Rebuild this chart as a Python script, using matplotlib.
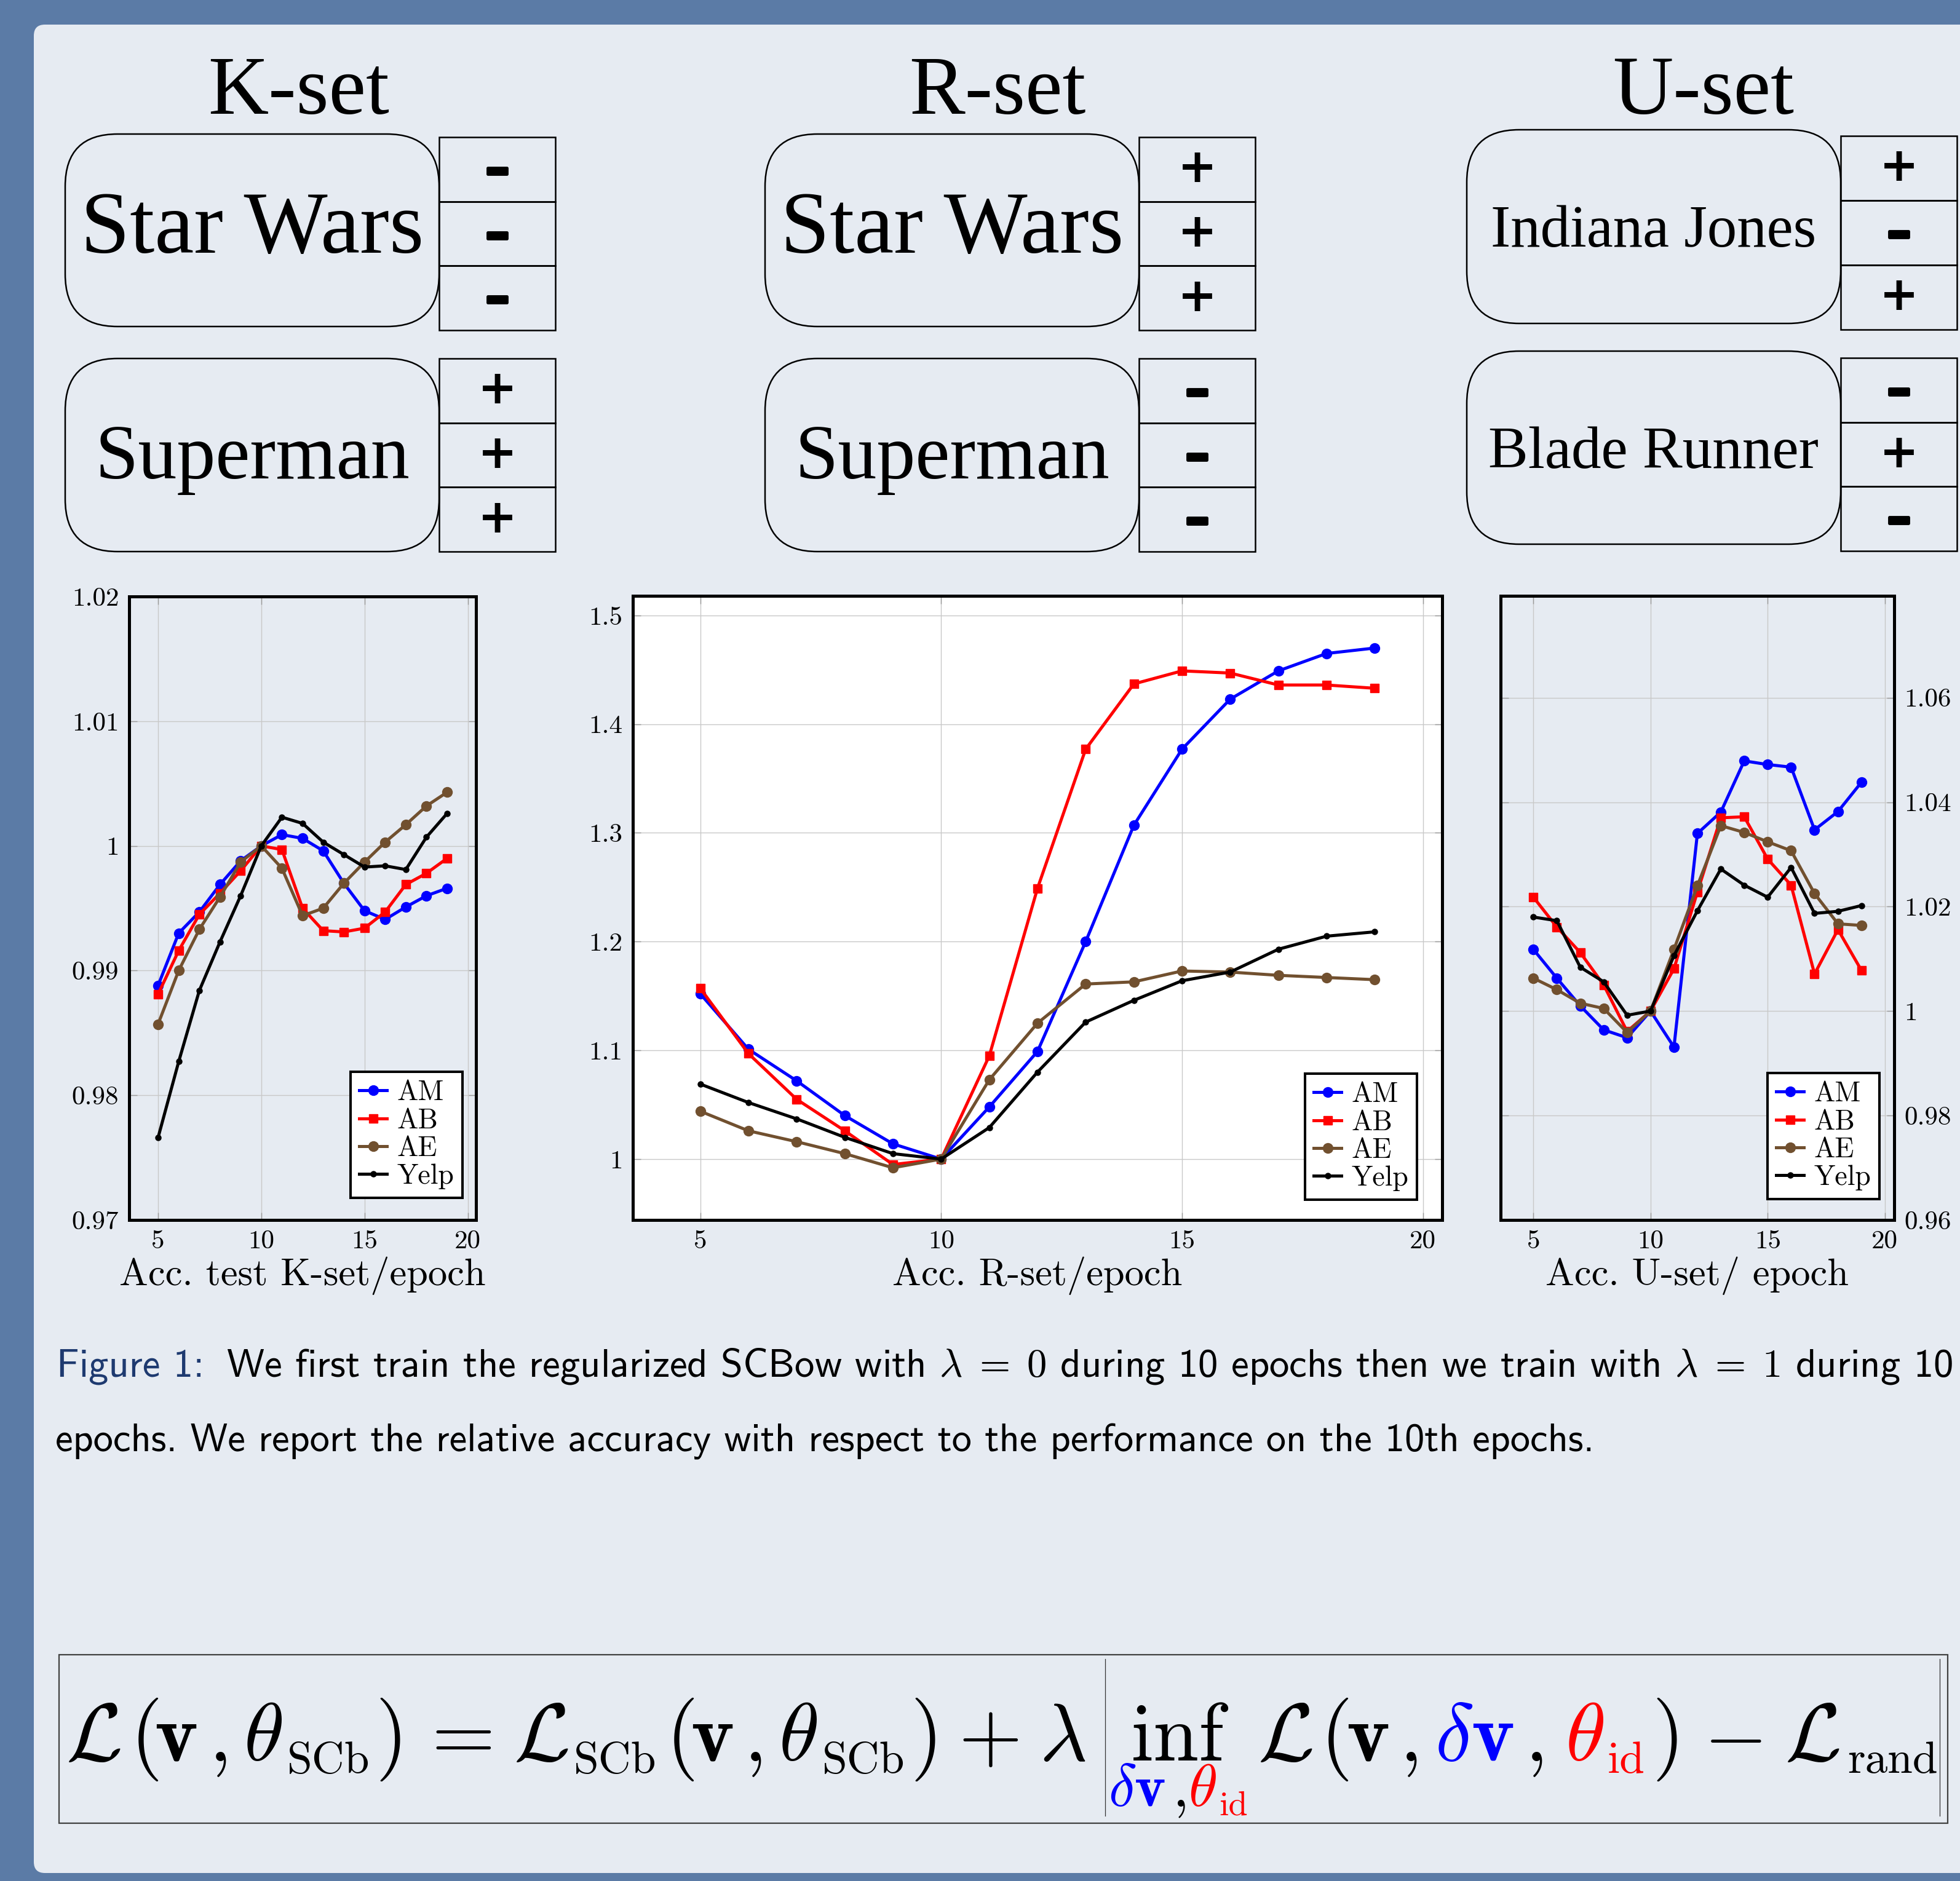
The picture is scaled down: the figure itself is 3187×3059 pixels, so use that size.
import matplotlib
matplotlib.use('Agg')
import matplotlib.pyplot as plt
import matplotlib.patheffects as pe
from matplotlib.patches import FancyBboxPatch, Rectangle

W, H = 3187, 3059

# ---- data ----
epochs = [5, 6, 7, 8, 9, 10, 11, 12, 13, 14, 15, 16, 17, 18, 19]
series_names = ['AM', 'AB', 'AE', 'Yelp']

k_am = [0.9888, 0.9930, 0.9947, 0.9969, 0.9988, 1.0, 1.0009, 1.0006, 0.9996, 0.9970, 0.9948, 0.9941, 0.9951, 0.9960, 0.9966]
k_ab = [0.9881, 0.9916, 0.9945, 0.9962, 0.9980, 1.0, 0.9997, 0.9950, 0.9932, 0.9931, 0.9934, 0.9947, 0.9969, 0.9978, 0.9990]
k_ae = [0.9857, 0.9900, 0.9933, 0.9959, 0.9987, 1.0, 0.9982, 0.9944, 0.9950, 0.9970, 0.9987, 1.0003, 1.0017, 1.0032, 1.0043]
k_yelp = [0.9766, 0.9827, 0.9884, 0.9923, 0.9960, 1.0, 1.0023, 1.0018, 1.0003, 0.9993, 0.9983, 0.9984, 0.9981, 1.0007, 1.0026]

r_am = [1.152, 1.101, 1.072, 1.040, 1.014, 1.0, 1.048, 1.099, 1.200, 1.307, 1.377, 1.423, 1.449, 1.465, 1.470]
r_ab = [1.157, 1.097, 1.055, 1.026, 0.995, 1.0, 1.095, 1.249, 1.377, 1.437, 1.449, 1.447, 1.436, 1.436, 1.433]
r_ae = [1.044, 1.026, 1.016, 1.005, 0.992, 1.0, 1.073, 1.125, 1.161, 1.163, 1.173, 1.172, 1.169, 1.167, 1.165]
r_yelp = [1.069, 1.052, 1.037, 1.020, 1.005, 1.0, 1.029, 1.080, 1.126, 1.146, 1.164, 1.172, 1.193, 1.205, 1.209]

u_am = [1.0118, 1.0063, 1.0010, 0.9964, 0.9949, 1.0, 0.9931, 1.0340, 1.0381, 1.0479, 1.0472, 1.0467, 1.0347, 1.0382, 1.0438]
u_ab = [1.0218, 1.0161, 1.0112, 1.0050, 0.9961, 1.0, 1.0081, 1.0228, 1.0370, 1.0372, 1.0291, 1.0241, 1.0071, 1.0156, 1.0078]
u_ae = [1.0063, 1.0041, 1.0015, 1.0005, 0.9959, 1.0, 1.0118, 1.0240, 1.0355, 1.0342, 1.0324, 1.0307, 1.0225, 1.0167, 1.0164]
u_yelp = [1.0180, 1.0173, 1.0084, 1.0056, 0.9992, 1.0, 1.0106, 1.0192, 1.0272, 1.0241, 1.0218, 1.0275, 1.0187, 1.0191, 1.0202]

x_ticks = [5, 10, 15, 20]
k_yticks = [0.97, 0.98, 0.99, 1.0, 1.01, 1.02]
k_ylabels = ['0.97', '0.98', '0.99', '1', '1.01', '1.02']
r_yticks = [1.0, 1.1, 1.2, 1.3, 1.4, 1.5]
r_ylabels = ['1', '1.1', '1.2', '1.3', '1.4', '1.5']
u_yticks = [0.96, 0.98, 1.0, 1.02, 1.04, 1.06]
u_ylabels = ['0.96', '0.98', '1', '1.02', '1.04', '1.06']

set_titles = ['K-set', 'R-set', 'U-set']
set_movies = [['Star Wars', 'Superman'], ['Star Wars', 'Superman'], ['Indiana Jones', 'Blade Runner']]
set_signs = [[['-', '-', '-'], ['+', '+', '+']],
             [['+', '+', '+'], ['-', '-', '-']],
             [['+', '-', '+'], ['-', '+', '-']]]
x_labels = ['Acc. test K-set/epoch', 'Acc. R-set/epoch', 'Acc. U-set/ epoch']

BLUE_BG = '#5B7BA6'
PANEL = '#E6EBF2'
BROWN = '#71502F'
colors = ['#0000FF', '#FF0000', BROWN, 'black']
markers = ['o', 's', 'o', 'o']
msizes = [11.5, 10.5, 11.5, 6.5]

plt.rcParams['font.family'] = 'cmr10'
plt.rcParams['mathtext.fontset'] = 'cm'
plt.rcParams['axes.unicode_minus'] = False

fig = plt.figure(figsize=(W / 100, H / 100), dpi=100, facecolor=BLUE_BG)
bg = fig.add_axes([0, 0, 1, 1])
bg.set_xlim(0, W)
bg.set_ylim(H, 0)
bg.axis('off')
renderer = fig.canvas.get_renderer()

bg.add_patch(FancyBboxPatch((55, 40), W, 3006, boxstyle='round,pad=0,rounding_size=18',
                            fc=PANEL, ec='none'))


def width_of(t):
    return t.get_window_extent(renderer).width


def fit_text(t, target):
    t.set_fontsize(t.get_fontsize() * target / width_of(t))


def px_rect(x0, y0, x1, y1):
    return [x0 / W, 1 - y1 / H, (x1 - x0) / W, (y1 - y0) / H]


# ---- top part: titles, movie boxes, signs ----
title_x = [486, 1622, 2770]
col_x0 = [106, 1244, 2385]
box_rows = [[(218, 531), (583, 897)], [(218, 531), (583, 897)], [(211, 526), (571, 885)]]
sign_rows = [[(223, 537), (583, 897)], [(223, 537), (583, 897)], [(221, 536), (582, 896)]]
text_base = [[411, 778], [411, 778], [401, 761]]
text_w = [[558, 512], [558, 512], [529, 537]]
BOX_W, SIGN_W = 608, 189

for c in range(3):
    bg.text(title_x[c], 185, set_titles[c], family='Liberation Serif', fontsize=98,
            ha='center', va='baseline')
    for r in range(2):
        x0 = col_x0[c]
        y0, y1 = box_rows[c][r]
        bg.add_patch(FancyBboxPatch((x0, y0), BOX_W, y1 - y0,
                                    boxstyle='round,pad=0,rounding_size=85',
                                    fc='none', ec='black', lw=1.8))
        t = bg.text(x0 + BOX_W / 2, text_base[c][r], set_movies[c][r], family='Liberation Serif',
                    fontsize=95, ha='center', va='baseline')
        fit_text(t, text_w[c][r])
        s0, s1 = sign_rows[c][r]
        ch = (s1 - s0) / 3
        for i, sg in enumerate(set_signs[c][r]):
            cy = s0 + ch * i
            bg.add_patch(Rectangle((x0 + BOX_W, cy), SIGN_W, ch, fc='none', ec='black', lw=1.8))
            if sg == '-':
                bg.text(x0 + BOX_W + SIGN_W / 2, cy + ch / 2 + 2, '\u2013', family='DejaVu Sans',
                        weight='bold', fontsize=56, ha='center', va='center',
                        path_effects=[pe.withStroke(linewidth=3.5, foreground='black')])
            else:
                bg.text(x0 + BOX_W + SIGN_W / 2, cy + ch / 2, sg, family='DejaVu Sans',
                        weight='bold', fontsize=55, ha='center', va='center')


# ---- the three plots ----
def make_plot(rect, ys_list, ylim, yticks, ylabels, leg_corner, face='none', right=False):
    ax = fig.add_axes(px_rect(*rect))
    ax.set_facecolor(face)
    for ys, name, col, mk, ms in zip(ys_list, series_names, colors, markers, msizes):
        ax.plot(epochs, ys, color=col, marker=mk, ms=ms, mec=col, mfc=col, lw=3.6, label=name)
    ax.set_xlim(3.6, 20.4)
    ax.set_ylim(*ylim)
    ax.set_xticks(x_ticks, [str(v) for v in x_ticks])
    ax.set_yticks(yticks, ylabels)
    ax.set_axisbelow(True)
    ax.grid(True, color='#C8C8C8', lw=1.0)
    ax.tick_params(direction='in', length=9, width=1.0, color='#999999', top=True, right=True,
                   labelsize=31, pad=12)
    if right:
        ax.tick_params(axis='y', labelleft=False, labelright=True)
    for sp in ax.spines.values():
        sp.set_linewidth(3.6)
    leg = ax.legend(loc='lower right', bbox_to_anchor=(leg_corner[0] / W, 1 - leg_corner[1] / H),
                    bbox_transform=fig.transFigure, prop={'family': 'cmr10', 'size': 33},
                    fancybox=False, edgecolor='black', framealpha=1, borderpad=0.3,
                    labelspacing=0.08, handlelength=1.0, handletextpad=0.35, borderaxespad=0)
    leg.get_frame().set_linewidth(2.9)
    return ax


make_plot((210, 970, 774, 1984), [k_am, k_ab, k_ae, k_yelp], (0.97, 1.02),
          k_yticks, k_ylabels, (752, 1948))
make_plot((1029, 969, 2345, 1984), [r_am, r_ab, r_ae, r_yelp], (0.944, 1.518),
          r_yticks, r_ylabels, (2304, 1951), face='white')
make_plot((2440, 969, 3080, 1984), [u_am, u_ab, u_ae, u_yelp], (0.96, 1.0795),
          u_yticks, u_ylabels, (3056, 1950), right=True)

for cx, lab in zip([492, 1687, 2760], x_labels):
    bg.text(cx, 2090, lab, fontsize=45, ha='center', va='baseline')

# ---- caption ----
cap1 = bg.text(92, 2238, 'Figure 1:', family='cmss10', color='#1E3A70', fontsize=60, va='baseline')
cap2 = bg.text(0, 2238, r'We first train the regularized SCBow with $\lambda\;=\;0$ during 10 epochs '
               r'then we train with $\lambda\;=\;1$ during 10', family='cmss10', fontsize=60, va='baseline')
gap_em = 0.55
total = width_of(cap1) + width_of(cap2) + gap_em * 60 * 100 / 72
cs = 60 * 3083 / total
cap1.set_fontsize(cs)
cap2.set_fontsize(cs)
cap2.set_x(92 + width_of(cap1) + gap_em * cs * 100 / 72)
cap3 = bg.text(90, 2360, 'epochs. We report the relative accuracy with respect to the performance on the 10th epochs.',
               family='cmss10', fontsize=cs, va='baseline')
fit_text(cap3, 2500)

# ---- formula ----
bg.add_patch(Rectangle((96, 2691), 3071, 274, fc='none', ec='#404040', lw=1.6))
FS = 96
BASE = 2863
SUB = BASE + 20
# pieces: (left x, baseline, text, colour, size scale), placed as in the picture
formula = [(107, BASE, r'$\mathcal{L}$', 'black', 1),
           (212, BASE, '(', 'black', 1.02),
           (251, BASE, r'$\mathbf{v}$', 'black', 1),
           (340, BASE, ',', 'black', 1),
           (396, BASE, r'$\theta$', 'black', 1),
           (467, SUB, 'SCb', 'black', 0.55),
           (610, BASE, ')', 'black', 1.02),
           (702, BASE, '=', 'black', 1),
           (835, BASE, r'$\mathcal{L}$', 'black', 1),
           (933, SUB, 'SCb', 'black', 0.55),
           (1083, BASE, '(', 'black', 1.02),
           (1123, BASE, r'$\mathbf{v}$', 'black', 1),
           (1210, BASE, ',', 'black', 1),
           (1266, BASE, r'$\theta$', 'black', 1),
           (1337, SUB, 'SCb', 'black', 0.55),
           (1480, BASE, ')', 'black', 1.02),
           (1559, BASE, '+', 'black', 1),
           (1690, BASE, r'$\lambda$', 'black', 1),
           (1839, BASE, 'inf', 'black', 1),
           (2045, BASE, r'$\mathcal{L}$', 'black', 1),
           (2147, BASE, '(', 'black', 1.02),
           (2189, BASE, r'$\mathbf{v}$', 'black', 1),
           (2276, BASE, ',', 'black', 1),
           (2333, BASE, r'$\delta\mathbf{v}$', 'blue', 1),
           (2480, BASE, ',', 'black', 1),
           (2545, BASE, r'$\theta$', 'red', 1),
           (2614, SUB, 'id', 'red', 0.55),
           (2686, BASE, ')', 'black', 1.02),
           (2770, BASE, r'$-$', 'black', 1),
           (2902, BASE, r'$\mathcal{L}$', 'black', 1),
           (3004, SUB, 'rand', 'black', 0.55),
           # index under inf
           (1802, 2937, r'$\delta\mathbf{v}$', 'blue', 0.72),
           (1907, 2937, ',', 'black', 0.72),
           (1932, 2937, r'$\theta$', 'red', 0.72),
           (1982, 2951, 'id', 'red', 0.42)]
for fx, fy, s, col, sc in formula:
    bg.text(fx, fy, s, color=col, fontsize=FS * sc, va='baseline')
bg.plot([1797, 1797], [2698, 2953], color='#333333', lw=0.9)
bg.plot([3154, 3154], [2698, 2953], color='#333333', lw=0.9)

fig.savefig('out.png', dpi=100, facecolor=BLUE_BG)
